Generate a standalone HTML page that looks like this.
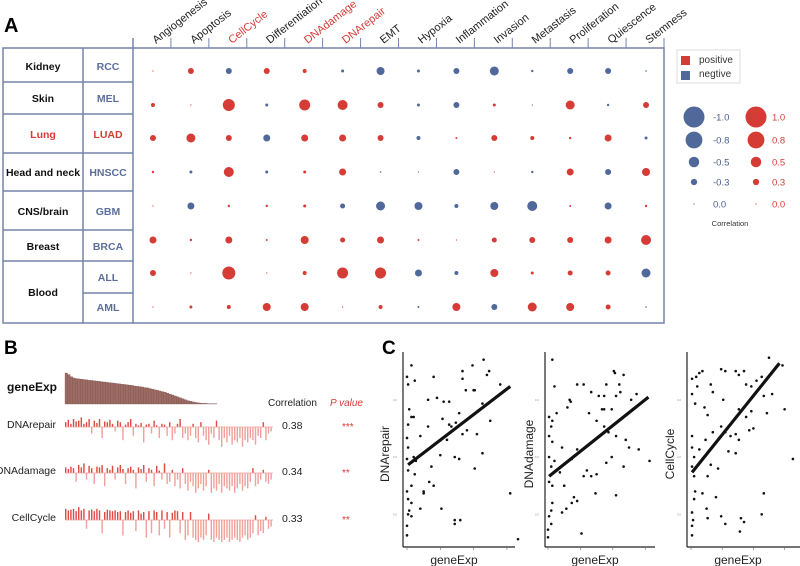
<!DOCTYPE html>
<html><head><meta charset="utf-8">
<style>
html,body{margin:0;padding:0;background:#fff;width:800px;height:566px;overflow:hidden}
svg{display:block;font-family:"Liberation Sans",sans-serif}
</style></head>
<body>
<svg id="fig" width="800" height="566" viewBox="0 0 800 566" xmlns="http://www.w3.org/2000/svg">
<text x="4" y="32" font-size="20" font-weight="bold">A</text>
<text x="4" y="354" font-size="19" font-weight="bold">B</text>
<text x="382" y="354" font-size="19" font-weight="bold">C</text>
<g id="gA"></g>
<g id="gLeg">
<rect x="677" y="50" width="63" height="33" fill="none" stroke="#ddd" stroke-width="1"/>
<rect x="681" y="56" width="9" height="9" fill="#d63c36"/>
<text x="699" y="63" font-size="10" fill="#333">positive</text>
<rect x="681" y="71" width="9" height="9" fill="#50699a"/>
<text x="699" y="77" font-size="10" fill="#333">negtive</text>
<text x="730" y="226" font-size="7.5" fill="#333" text-anchor="middle">Correlation</text>
</g>
<g id="gB"></g>
<g id="gC"></g>
</svg>
<script>
const NS="http://www.w3.org/2000/svg";
function mk(tag,attrs,parent,txt){const e=document.createElementNS(NS,tag);for(const k in attrs)e.setAttribute(k,attrs[k]);if(txt!==undefined)e.textContent=txt;parent.appendChild(e);return e;}
const RED="#d63c36",BLUE="#50699a";

// ---------- Panel A data ----------
const features=["Angiogenesis","Apoptosis","CellCycle","Differentiation","DNAdamage","DNArepair","EMT","Hypoxia","Inflammation","Invasion","Metastasis","Proliferation","Quiescence","Stemness"];
const highlighted=["CellCycle","DNAdamage","DNArepair"];
const tissues=["Kidney","Skin","Lung","Head and neck","CNS/brain","Breast","Blood"];
const cancers=["RCC","MEL","LUAD","HNSCC","GBM","BRCA","ALL","AML"];
const corrRCC=[0.05,0.3,-0.3,0.3,0.2,-0.15,-0.4,-0.15,-0.3,-0.45,-0.12,-0.3,-0.3,-0.08];
const corrMEL=[0.2,0.03,0.6,-0.15,0.55,0.5,0.3,-0.15,-0.3,0.15,-0.03,0.45,-0.12,0.3];
const corrLUAD=[0.3,0.45,0.3,-0.35,0.35,0.35,0.3,-0.2,0.1,0.3,0.2,0.12,0.35,-0.15];
const corrHNSCC=[0.12,-0.15,0.5,-0.15,0.15,0.35,-0.08,-0.04,-0.3,0.05,-0.12,0.35,-0.3,0.4];
const corrGBM=[0.04,-0.35,0.12,0.12,0.15,-0.25,-0.45,-0.4,-0.2,-0.4,-0.5,0.1,-0.35,0.12];
const corrBRCA=[0.35,0.12,0.35,0.1,0.4,0.25,0.35,0.1,0.05,0.25,0.3,0.3,0.35,0.5];
const corrALL=[0.3,0.05,0.65,0.03,0.2,0.55,0.55,-0.35,-0.2,0.4,0.15,0.25,0.25,-0.45];
const corrAML=[0.05,0.15,0.2,0.4,0.4,0.05,0.2,-0.1,0.4,-0.3,0.45,0.4,0.25,-0.08];
const corrRows=[corrRCC,corrMEL,corrLUAD,corrHNSCC,corrGBM,corrBRCA,corrALL,corrAML];
const legendNeg=[-1.0,-0.8,-0.5,-0.3,0.0];
const legendPos=[1.0,0.8,0.5,0.3,0.0];

const gA=document.getElementById('gA');
const rowB=[48,82,114,153,191,230,261,293,323];
const dotY=[71,105,138,172,206,240,273,307];
const labY=[66,98,134,172,211,246,277,307];
const tissueLabY=[66,98,134,172,211,246,292];
const tissueSpan=[[0,1],[1,2],[2,3],[3,4],[4,5],[5,6],[6,8]];
const X0=133,X1=664,colW=(X1-X0)/features.length;
const cx=i=>X0+colW*(i+0.5)+1;
const rad=v=>Math.max(0.6,Math.abs(v)*10);
const LINE="#7383ab";
mk('rect',{x:3,y:48,width:661,height:275,fill:"none",stroke:LINE,"stroke-width":1.5},gA);
mk('line',{x1:83,y1:48,x2:83,y2:323,stroke:LINE,"stroke-width":1.5},gA);
mk('line',{x1:133,y1:38,x2:133,y2:323,stroke:LINE,"stroke-width":1.5},gA);
tissueSpan.forEach((s,i)=>{
  if(i>0){mk('line',{x1:3,y1:rowB[s[0]],x2:133,y2:rowB[s[0]],stroke:LINE,"stroke-width":1.5},gA);}
  const t=mk('text',{x:43,y:tissueLabY[i]+4,"font-size":10.5,"font-weight":"bold","text-anchor":"middle",fill:tissues[i]==="Lung"?RED:"#111"},gA,tissues[i]);
  
  
});
mk('line',{x1:83,y1:293,x2:133,y2:293,stroke:LINE,"stroke-width":1.5},gA);
cancers.forEach((c,r)=>{
  const t=mk('text',{x:108,y:labY[r]+4,"font-size":10.5,"font-weight":"bold","text-anchor":"middle",fill:c==="LUAD"?RED:"#5c6f9c"},gA,c);
  
  
});
for(let k=0;k<=features.length;k++){mk('line',{x1:X0+colW*k,y1:38,x2:X0+colW*k,y2:48,stroke:LINE,"stroke-width":1},gA);}
features.forEach((f,i)=>{
  const x=cx(i)+3,y=44;
  const t=mk('text',{x:x,y:y,"font-size":11,fill:highlighted.includes(f)?RED:"#222",transform:`rotate(-38 ${x} ${y})`},gA,f);
  
  
});
corrRows.forEach((row,r)=>{
  row.forEach((v,i)=>{
    const c=mk('circle',{cx:cx(i),cy:dotY[r],r:rad(v),fill:v>=0?RED:BLUE},gA);
    
    
  });
});
const gLeg=document.getElementById('gLeg');
const legY=[117,140,162,182,204];
legendNeg.forEach((v,i)=>{
  const c=mk('circle',{cx:694,cy:legY[i],r:rad(v)*1.05,fill:BLUE},gLeg);
  
  
  const t=mk('text',{x:713,y:legY[i]+3.5,"font-size":9.5,fill:"#4a5f8e"},gLeg,v===0?"0.0":v.toFixed(1));
  
  
});
legendPos.forEach((v,i)=>{
  const c=mk('circle',{cx:756,cy:legY[i],r:rad(v)*1.05,fill:RED},gLeg);
  
  
  const t=mk('text',{x:772,y:legY[i]+3.5,"font-size":9.5,fill:RED},gLeg,v.toFixed(1));
  
  
});

// ---------- Panel B data ----------
const geneExp=[1.0,0.95,0.88,0.84,0.82,0.81,0.8,0.79,0.78,0.77,0.76,0.75,0.74,0.73,0.72,0.71,0.7,0.69,0.68,0.67,0.66,0.65,0.64,0.63,0.62,0.61,0.6,0.58,0.57,0.56,0.55,0.53,0.52,0.5,0.48,0.46,0.44,0.42,0.4,0.38,0.35,0.32,0.29,0.26,0.23,0.2,0.17,0.14,0.11,0.09,0.07,0.05,0.04,0.03,0.02,0.02,0.01,0.01,0.01,0.01];
const scoreDNArepair=[0.3,0.45,0.2,0.5,0.35,0.4,0.6,0.2,0.3,0.5,-0.3,0.4,0.25,0.5,-0.5,0.35,0.3,0.45,0.2,-0.2,0.4,0.3,-0.6,0.15,0.3,0.5,-0.4,0.2,0.1,0.25,-0.7,0.15,0.2,-0.3,0.4,0.1,-0.5,0.2,0.15,-0.4,0.3,-0.6,-0.3,0.2,0.5,-0.5,-0.3,-0.6,-0.4,0.2,-0.5,-0.7,0.3,-0.4,-0.6,-0.8,-0.3,-0.5,0.4,-0.6,-0.9,-0.5,-0.7,-0.4,-0.8,-0.6,-0.7,-0.5,-0.9,-0.6,-0.7,-0.5,-0.6,-0.8,-0.4,-0.5,0.3,-0.6,-0.3,-0.2];
const scoreDNAdamage=[0.35,0.25,0.4,0.3,-0.4,0.5,0.35,0.6,-0.3,0.45,0.3,-0.5,0.4,0.35,0.5,-0.6,0.3,0.2,0.45,-0.3,0.35,0.5,0.25,-0.5,0.3,0.4,0.2,-0.7,0.35,0.25,0.5,-0.4,0.3,0.2,-0.6,0.45,0.15,-0.3,0.6,-0.5,-0.4,0.2,-0.6,-0.3,-0.7,0.3,-0.5,-0.8,-0.4,-0.6,-0.9,-0.7,-0.5,-0.8,-0.6,0.2,-0.9,-0.7,-0.8,-0.5,-0.9,-0.6,-0.7,-0.8,-0.6,-0.9,-0.7,-0.5,-0.8,-0.6,-0.7,-0.4,0.3,-0.6,-0.5,-0.3,0.2,-0.4,-0.5,-0.3];
const scoreCellCycle=[0.7,0.6,0.65,0.7,0.55,0.8,0.6,0.7,-0.4,0.6,0.65,0.55,0.7,0.6,-0.6,0.5,0.65,0.6,0.55,0.6,0.5,0.55,-0.7,0.5,0.6,0.45,0.55,-0.5,0.6,0.4,0.5,-0.8,0.55,-0.6,0.6,0.5,-0.7,0.6,-0.4,0.5,-0.8,0.45,0.6,0.55,-0.6,0.5,-0.9,-0.7,0.5,-0.8,-0.9,-1.0,-0.8,-0.9,-0.7,0.4,-0.9,-1.0,-0.8,-0.9,-1.0,-0.9,-0.8,-1.0,-0.9,-0.8,-0.9,-1.0,-0.8,-0.7,-0.9,-0.8,-0.6,0.3,-0.7,-0.5,-0.6,0.2,-0.4,-0.3];
const barRowNames=["DNArepair","DNAdamage","CellCycle"];
const barRowCorr=["0.38","0.34","0.33"];
const barRowP=["***","**","**"];
const gB=document.getElementById('gB');
const t0=mk('text',{x:7,y:391,"font-size":12,"font-weight":"bold",fill:"#111"},gB,"geneExp");


const gx0=65,gx1=217,gBase=404,gH=31,gw=(gx1-gx0)/geneExp.length;
geneExp.forEach((v,i)=>{
  const r=mk('rect',{x:gx0+i*gw,y:gBase-v*gH,width:gw,height:v*gH,fill:"#9b6b64",stroke:"#7a4d47","stroke-width":0.3},gB);
  
  
});
const t1=mk('text',{x:268,y:406,"font-size":10,fill:"#222"},gB,"Correlation");


const t2=mk('text',{x:330,y:406,"font-size":10,fill:RED,"font-style":"italic"},gB,"P value");


const rowBase=[427,473,520];
[scoreDNArepair,scoreDNAdamage,scoreCellCycle].forEach((arr,k)=>{
  const x0=65,x1=273,w=(x1-x0)/arr.length,base=rowBase[k];
  arr.forEach((v,i)=>{
    const h=Math.abs(v)*(v>=0?16:22);
    const r=mk('rect',{x:x0+i*w,y:v>=0?base-h:base,width:Math.max(0.8,w*0.55),height:h,fill:v>=0?"#de4a44":"#f1a19b"},gB);
    
    
  });
  mk('line',{x1:x0,y1:base,x2:x1,y2:base,stroke:"#f1a19b","stroke-width":0.8},gB);
  const a=mk('text',{x:56,y:base+1,"font-size":10.5,"text-anchor":"end",fill:"#222"},gB,barRowNames[k]);
  
  
  const b=mk('text',{x:282,y:base+2,"font-size":10.5,fill:"#222"},gB,barRowCorr[k]);
  
  
  const c=mk('text',{x:342,y:base+3,"font-size":10,fill:RED},gB,barRowP[k]);
  
  
});

// ---------- Panel C data ----------
const s1x=[4,0,7,1,24,19,27,33,38,50,59,69,74,61,60,68,50,53,84,75,2,4,6,1,19,32,38,40,44,47,50,54,63,12,0,1,6,0,8,22,30,36,43,47,61,68,1,7,20,24,15,15,4,0,1,4,2,1,4,0,0,12,31,43,43,48,93,100,72];
const s1y=[93,87,85,83,87,75,76,74,74,90,93,96,90,80,80,73,86,80,83,64,70,66,66,62,61,65,62,61,63,68,57,59,57,56,55,50,45,44,43,40,46,54,45,44,39,47,38,36,32,30,27,26,30,27,23,21,17,15,14,9,4,18,18,12,10,12,26,2,88];
const s2x=[4,6,20,21,18,27,33,40,47,52,61,62,70,66,63,77,82,67,54,1,4,3,8,38,45,50,59,52,56,63,1,4,13,6,1,3,11,27,22,36,40,45,54,59,70,75,84,94,72,1,4,15,24,27,22,17,13,4,3,1,3,0,0,33,44,63,31,52];
const s2y=[96,82,75,74,71,83,83,79,77,77,90,89,88,83,77,75,78,79,83,66,64,61,68,68,64,70,70,61,58,56,56,53,50,43,45,40,37,49,44,38,35,36,42,45,40,50,49,43,54,32,30,30,24,22,21,18,16,21,17,14,10,7,3,35,26,25,5,70];
const s3x=[1,5,8,11,19,21,6,1,4,13,16,29,33,43,46,51,53,58,63,68,75,88,78,70,31,46,58,73,90,14,21,29,33,38,43,56,60,53,46,1,1,3,8,19,26,36,43,98,1,3,16,4,3,11,24,1,2,1,1,16,29,33,48,51,47,68,70,15];
const s3y=[86,87,89,90,83,79,82,78,73,71,67,91,90,90,88,90,83,82,85,87,97,93,78,77,75,70,69,68,70,54,58,61,58,56,57,59,60,66,54,56,50,45,49,41,39,48,47,44,40,35,35,27,23,26,24,16,12,9,4,13,14,10,13,11,6,15,26,18];
const fitIntercept=[40.5,34.5,36.3];
const fitSlope=[0.446,0.45,0.68];
const scatterYNames=["DNArepair","DNAdamage","CellCycle"];
const xTicks=[0,30,60,90];
const gC=document.getElementById('gC');
const frames=[[407,518],[548,656],[691,795]];
const axisX=[403,545,687];
const axisEnd=[515,655,800];
const titleX=[385,529,670];
const yTop=352,yBot=543;
[[s1x,s1y],[s2x,s2y],[s3x,s3y]].forEach((d,k)=>{
  const [fx0,fx1]=frames[k];
  const sx=v=>fx0+(fx1-fx0)*v/100;
  const sy=v=>yBot-(yBot-yTop)*v/100;
  const ax=mk('line',{x1:axisX[k],y1:yTop,x2:axisX[k],y2:547,stroke:"#222","stroke-width":1.2},gC);
  
  
  const bx=mk('line',{x1:axisX[k],y1:547,x2:axisEnd[k],y2:547,stroke:"#222","stroke-width":1.2},gC);
  
  
  xTicks.forEach(t=>{mk('line',{x1:sx(t),y1:547,x2:sx(t),y2:550,stroke:"#666","stroke-width":0.6},gC);});
  [15,45,75].forEach(t=>{mk('text',{x:axisX[k]-8,y:sy(t)+1,"font-size":3,fill:"#999","text-anchor":"middle"},gC,"0.0");});
  d[0].forEach((xv,i)=>{
    const c=mk('circle',{cx:sx(xv),cy:sy(d[1][i]),r:1.3,fill:"#111"},gC);
    
    
  });
  const xa=1,xb=k===2?85:93;
  const ln=mk('line',{x1:sx(xa),y1:sy(fitIntercept[k]+fitSlope[k]*xa),x2:sx(xb),y2:sy(fitIntercept[k]+fitSlope[k]*xb),stroke:"#111","stroke-width":3.2},gC);
  
  
  const xl=mk('text',{x:fx0+47,y:564,"font-size":12,"text-anchor":"middle",fill:"#222"},gC,"geneExp");
  
  
  const yx=titleX[k]+4,yy=454;
  const yl=mk('text',{x:yx,y:yy,"font-size":12,"text-anchor":"middle",fill:"#222",transform:`rotate(-90 ${yx} ${yy})`},gC,scatterYNames[k]);
  
  
});
</script>
</body></html>
